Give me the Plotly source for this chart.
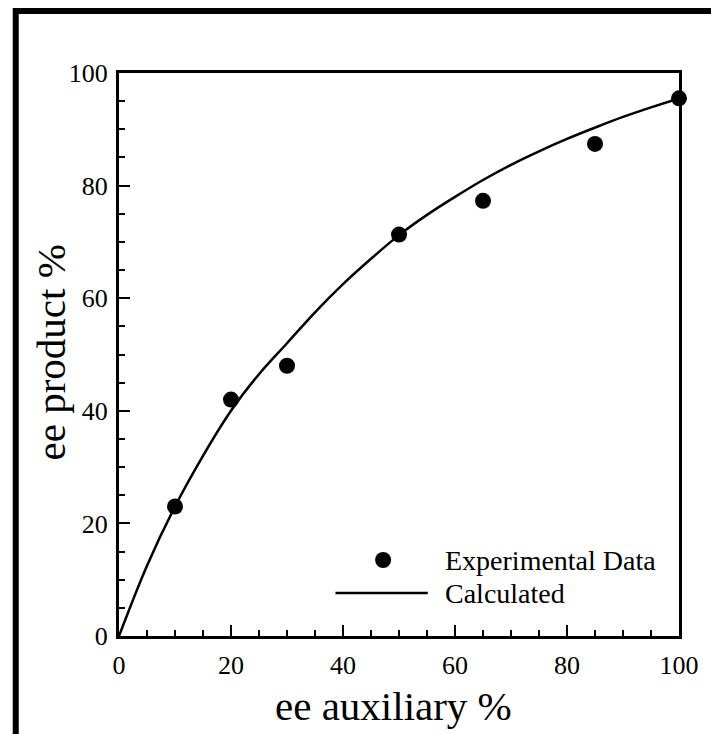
import plotly.graph_objects as go

# Experimental data
exp_x = [10, 20, 30, 50, 65, 85, 100]
exp_y = [23, 42, 48, 71.3, 77.3, 87.4, 95.5]

# Calculated curve
calc_x = [0, 5, 10, 15, 20, 25, 30, 35, 40, 45, 50, 55, 60, 65, 70, 75, 80, 85, 90, 95, 100]
calc_y = [0, 12.5, 23, 32, 40, 46.5, 52, 57.5, 62.5, 67, 71.2, 74.8, 78, 81, 83.7, 86.1, 88.3, 90.3, 92.2, 93.9, 95.5]

tick_vals = [0, 20, 40, 60, 80, 100]
tick_text = ["0", "20", "40", "60", "80", "100"]

W, H = 711, 734
L, R, T, B = 119, 28, 73, 98
pw, ph = W - L - R, H - T - B

def px(x):
    return (x - L) / pw

def py(y):
    return (H - B - y) / ph

FONT = "Liberation Serif, Times New Roman, serif"

fig = go.Figure()
fig.add_trace(go.Scatter(x=calc_x, y=calc_y, mode="lines", line=dict(color="black", width=2.5, shape="spline"),
                         name="Calculated", showlegend=False, cliponaxis=False))
fig.add_trace(go.Scatter(x=exp_x, y=exp_y, mode="markers", marker=dict(color="black", size=16),
                         name="Experimental Data", showlegend=False, cliponaxis=False))

axis_common = dict(
    range=[0, 100], showgrid=False, zeroline=False, showline=True, linecolor="black", linewidth=3,
    mirror=True, ticks="inside", ticklen=11, tickwidth=2, tickcolor="black",
    tickvals=tick_vals, ticktext=tick_text,
    tickfont=dict(family=FONT, size=26, color="black"),
    minor=dict(dtick=5, tick0=0, ticks="inside", ticklen=6, tickwidth=2, tickcolor="black"),
)

fig.update_xaxes(**axis_common, ticklabelstandoff=4)
fig.update_yaxes(**axis_common, ticklabelstandoff=3)

shapes = [
    # outer frame
    dict(type="rect", xref="paper", yref="paper", x0=px(15), x1=px(W + 20), y0=py(H + 20), y1=py(11),
         line=dict(color="black", width=6), layer="above"),
    # legend line
    dict(type="line", xref="paper", yref="paper", x0=px(337), x1=px(430), y0=py(593), y1=py(593),
         line=dict(color="black", width=2.5)),
    # legend marker
    dict(type="circle", xref="paper", yref="paper", xsizemode="pixel", ysizemode="pixel",
         xanchor=px(385), yanchor=py(560), x0=-8, x1=8, y0=-8, y1=8,
         fillcolor="black", line=dict(color="black", width=0)),
]

annotations = [
    dict(text="Experimental Data", xref="paper", yref="paper", x=px(445), y=py(560), xanchor="left",
         yanchor="middle", showarrow=False, font=dict(family=FONT, size=28, color="black")),
    dict(text="Calculated", xref="paper", yref="paper", x=px(445), y=py(593), xanchor="left",
         yanchor="middle", showarrow=False, font=dict(family=FONT, size=28, color="black")),
    dict(text="ee auxiliary %", xref="paper", yref="paper", x=px(395), y=py(706), xanchor="center",
         yanchor="middle", showarrow=False, font=dict(family=FONT, size=41, color="black")),
    dict(text="ee product %", xref="paper", yref="paper", x=px(51), y=py(352), xanchor="center",
         yanchor="middle", textangle=-90, showarrow=False, font=dict(family=FONT, size=41, color="black")),
]

fig.update_layout(
    width=W, height=H, margin=dict(l=L, r=R, t=T, b=B),
    paper_bgcolor="white", plot_bgcolor="white",
    shapes=shapes, annotations=annotations, showlegend=False,
)

fig.write_html("out.html", config={"displayModeBar": False},
               post_script="document.body.style.margin='0';document.body.style.overflow='hidden';")
